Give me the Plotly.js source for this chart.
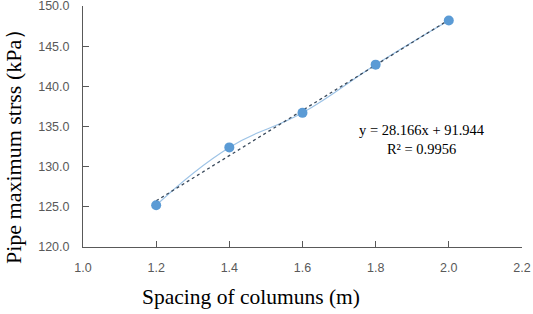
<!DOCTYPE html>
<html><head><meta charset="utf-8">
<script src="https://cdn.plot.ly/plotly-3.0.1.min.js"></script>
<style>html,body{margin:0;padding:0;background:#fff}</style>
</head><body>
<div id="chart" style="width:533px;height:314px"></div>
<script>
const spacing = [1.2, 1.4, 1.6, 1.8, 2.0];
const maxStress = [125.2, 132.4, 136.7, 142.7, 148.2];
const trendSlope = 28.166;
const trendIntercept = 91.944;
const rSquared = 0.9956;
const xTicks = [1.0, 1.2, 1.4, 1.6, 1.8, 2.0, 2.2];
const yTicks = [120, 125, 130, 135, 140, 145, 150];

const trendX = [spacing[0], spacing[spacing.length - 1]];
const trendY = trendX.map(x => trendSlope * x + trendIntercept);

const serif = 'Liberation Serif, Times New Roman, serif';

const data = [
  {x: spacing, y: maxStress, type: 'scatter', mode: 'lines',
   line: {shape: 'spline', smoothing: 1.3, color: '#9dc3e6', width: 1.2}, hoverinfo: 'skip'},
  {x: trendX, y: trendY, type: 'scatter', mode: 'lines',
   line: {color: '#3a4a5c', width: 1.3, dash: 'dot'}},
  {x: spacing, y: maxStress, type: 'scatter', mode: 'markers',
   marker: {color: '#5b9bd5', size: 10}}
];

const layout = {
  width: 533, height: 314,
  margin: {l: 83, r: 11, t: 6, b: 67},
  showlegend: false,
  paper_bgcolor: '#fff', plot_bgcolor: '#fff',
  font: {family: 'Liberation Sans, Arial, sans-serif', size: 12.5, color: '#595959'},
  xaxis: {
    range: [1.0, 2.2001], tickvals: xTicks, ticktext: xTicks.map(v => v.toFixed(1)),
    showgrid: false, zeroline: false, showline: true, linecolor: '#595959', linewidth: 1,
    ticks: 'inside', ticklen: 6, tickcolor: '#595959', ticklabelstandoff: 9,
    ticklabeloverflow: 'allow'
  },
  yaxis: {
    range: [120, 150.001], tickvals: yTicks, ticktext: yTicks.map(v => v.toFixed(1)),
    showgrid: false, zeroline: false, showline: true, linecolor: '#595959', linewidth: 1,
    ticks: 'inside', ticklen: 6, tickcolor: '#595959', ticklabelstandoff: 10,
    ticklabeloverflow: 'allow'
  },
  annotations: [
    {
      x: 1.928, y: 133.4, xref: 'x', yref: 'y', showarrow: false, align: 'center',
      text: 'y = ' + trendSlope.toFixed(3) + 'x + ' + trendIntercept.toFixed(3) + '<br>R² = ' + rSquared.toFixed(4),
      font: {family: serif, size: 14.5, color: '#000'}
    },
    {
      x: 0.383, y: -0.207, xref: 'paper', yref: 'paper', showarrow: false,
      xanchor: 'center', yanchor: 'middle',
      text: 'Spacing of columuns (m)', font: {family: serif, size: 21.5, color: '#000'}
    },
    {
      x: -0.157, y: 0.44, xref: 'paper', yref: 'paper', showarrow: false, textangle: -90,
      xanchor: 'center', yanchor: 'middle',
      text: 'Pipe maximum strss (kPa）', font: {family: serif, size: 22, color: '#000'}
    }
  ]
};

Plotly.newPlot('chart', data, layout, {displayModeBar: false, staticPlot: true});
</script>
</body></html>
